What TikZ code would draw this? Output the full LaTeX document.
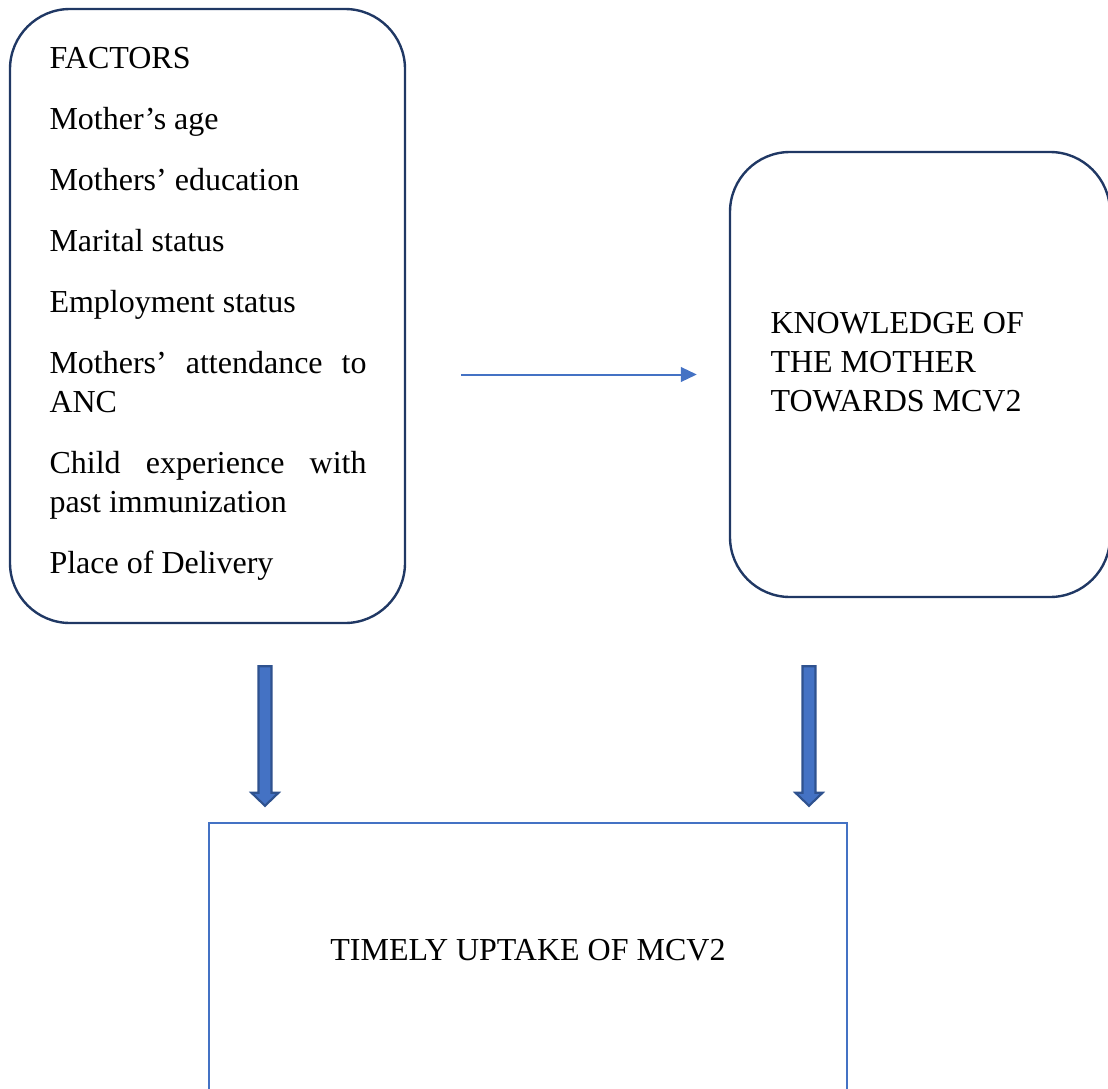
\documentclass[tikz,border=0pt]{standalone}
\usepackage{fontspec}
\setmainfont{Liberation Serif}
\usepackage{xcolor}
\usepackage{tikz}
\usetikzlibrary{calc,arrows.meta}
\definecolor{boxnavy}{HTML}{203864}
\definecolor{flowblue}{HTML}{4472C4}
\definecolor{arrowedge}{HTML}{2F528F}
\newcommand{\downblock}[2]{%
    \draw[blockarrow] ($(#1)+(-6.5,0)$) -- ($(#2)+(-6.5,-13)$) -- ($(#2)+(-13.5,-13)$) -- (#2)
        -- ($(#2)+(13.5,-13)$) -- ($(#2)+(6.5,-13)$) -- ($(#1)+(6.5,0)$) -- cycle;}

\begin{document}
\begin{tikzpicture}[x=0.375pt, y=-0.375pt,
    roundbox/.style={draw=boxnavy, line width=0.9pt, rounded corners=22.5pt, inner sep=0pt},
    plainbox/.style={draw=flowblue, line width=0.9pt, inner sep=0pt},
    boxtext/.style={inner sep=0pt, font=\fontsize{12}{14.625}\selectfont},
    flowarrow/.style={draw=flowblue, line width=0.75pt, -{Triangle[length=6pt,width=5.5pt]}},
    blockarrow/.style={draw=arrowedge, fill=flowblue, line width=0.8pt, line join=miter}]
    \useasboundingbox (0,0) rectangle (1108,1089);
    \clip (0,0) rectangle (1108,1089);
    \node[roundbox, minimum width=148.125pt, minimum height=230.25pt] (factors) at (207.5,316) {};
    \node[roundbox, minimum width=142.5pt, minimum height=166.875pt] (knowledge) at (920,374.5) {};
    \node[plainbox, minimum width=239.25pt, minimum height=103.875pt] (uptake) at (528,961.5) {};
    \node[boxtext, anchor=north west, text width=118.9pt, align=justify,
        execute at begin node={\setlength{\parskip}{8.25pt}}] (factorlist) at (49,47)
        {FACTORS\par Mother’s age\par Mothers’ education\par Marital status\par Employment status\par
        Mothers’ attendance to ANC\par Child experience with past immunization\par Place of Delivery};
    \node[boxtext, anchor=north west, align=left] (knowledgetext) at (770,312)
        {KNOWLEDGE OF\\THE MOTHER\\TOWARDS MCV2};
    \node[boxtext, anchor=base] (uptaketext) at (528,960) {TIMELY UPTAKE OF MCV2};
    \draw[flowarrow, shorten <=20.6pt, shorten >=12pt] (knowledge.west -| factors.east) -- (knowledge.west);
    \coordinate (la) at ($(factors.south)+(57.5,42)$);
    \coordinate (lb) at ($(la |- uptake.north)+(0,-16)$);
    \coordinate (ra) at ($(knowledge.south)+(-111,68)$);
    \coordinate (rb) at ($(ra |- uptake.north)+(0,-16)$);
    \downblock{la}{lb}
    \downblock{ra}{rb}
\end{tikzpicture}
\end{document}
